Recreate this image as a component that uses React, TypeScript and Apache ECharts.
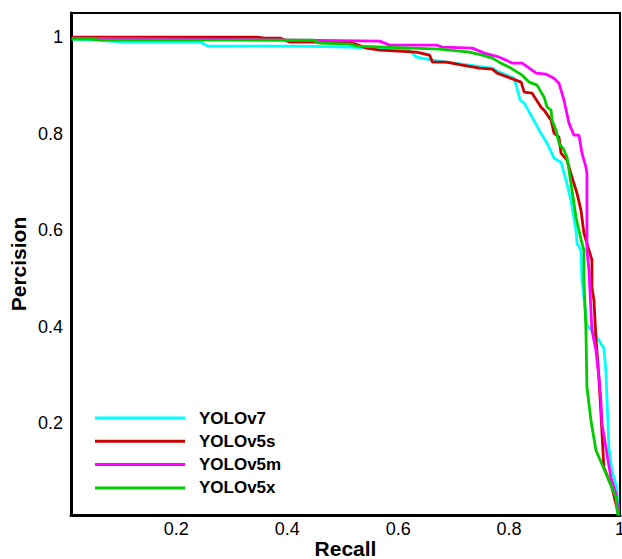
import React, { useEffect, useRef } from "react";
import * as echarts from "echarts";

const seriesNames = ["YOLOv7", "YOLOv5s", "YOLOv5m", "YOLOv5x"];
const seriesColors = ["#00FFFF", "#CC0000", "#FF00FF", "#00CC00"];

const yolov7: number[][] = [
  [0.0113, 0.9959], [0.0544, 0.9938], [0.1084, 0.9896], [0.2431, 0.9896], [0.2575, 0.9813],
  [0.4228, 0.9813], [0.5127, 0.9793], [0.6205, 0.9731], [0.6331, 0.9585], [0.6619, 0.9523],
  [0.687, 0.9482], [0.7283, 0.942], [0.7696, 0.9358], [0.7822, 0.9275], [0.8092, 0.915],
  [0.82, 0.8694], [0.8272, 0.8632], [0.8415, 0.8342], [0.8541, 0.8073], [0.8685, 0.7803],
  [0.881, 0.7492], [0.8936, 0.7409], [0.9026, 0.7036], [0.9116, 0.6622], [0.9206, 0.6],
  [0.9224, 0.5731], [0.9296, 0.5585], [0.9314, 0.4964], [0.9404, 0.4029], [0.9494, 0.3927],
  [0.962, 0.372], [0.9709, 0.3554], [0.9745, 0.3098], [0.9781, 0.2062], [0.9799, 0.1503],
  [0.9853, 0.1026], [0.9943, 0.0674], [0.9979, 0.0093],
];

const yolov5s: number[][] = [
  [0.0113, 1.0], [0.3455, 1.0], [0.3599, 0.9979], [0.3869, 0.9979], [0.4048, 0.9896],
  [0.5127, 0.9896], [0.5432, 0.9772], [0.5666, 0.9731], [0.6331, 0.9689], [0.6565, 0.9627],
  [0.6619, 0.9482], [0.687, 0.9482], [0.7158, 0.942], [0.7463, 0.9358], [0.7696, 0.9337],
  [0.7786, 0.9254], [0.8218, 0.9067], [0.8272, 0.886], [0.8415, 0.8839], [0.8577, 0.8549],
  [0.8631, 0.8487], [0.8757, 0.828], [0.881, 0.801], [0.89, 0.7927], [0.8936, 0.7596],
  [0.9044, 0.7451], [0.9134, 0.7098], [0.9224, 0.6767], [0.9296, 0.6415], [0.935, 0.5938],
  [0.9494, 0.5378], [0.9494, 0.4819], [0.953, 0.4549], [0.9566, 0.3782], [0.962, 0.2953],
  [0.9656, 0.2207], [0.9709, 0.1088], [0.9853, 0.0674], [0.9979, 0.0093],
];

const yolov5m: number[][] = [
  [0.0113, 0.9979], [0.4228, 0.9938], [0.5666, 0.9917], [0.5846, 0.9834], [0.669, 0.9834],
  [0.6798, 0.9793], [0.7337, 0.9772], [0.7553, 0.9668], [0.7822, 0.9585], [0.7948, 0.9523],
  [0.8056, 0.9461], [0.8236, 0.9461], [0.8415, 0.9316], [0.8487, 0.9254], [0.8667, 0.9233],
  [0.881, 0.915], [0.89, 0.9047], [0.899, 0.8694], [0.908, 0.8218], [0.917, 0.7969],
  [0.926, 0.7969], [0.9314, 0.7596], [0.9386, 0.7306], [0.9404, 0.7181], [0.9404, 0.5585],
  [0.944, 0.5171], [0.9494, 0.3927], [0.9566, 0.3513], [0.962, 0.2953], [0.9656, 0.2477],
  [0.9674, 0.2], [0.9745, 0.1503], [0.9835, 0.0881], [0.9925, 0.0549], [0.9979, 0.0093],
];

const yolov5x: number[][] = [
  [0.0113, 0.9959], [0.0455, 0.9959], [0.0634, 0.9938], [0.4462, 0.9938], [0.4592, 0.9876],
  [0.5127, 0.9855], [0.5252, 0.9813], [0.6744, 0.9751], [0.7283, 0.9689], [0.7517, 0.9627],
  [0.7696, 0.9565], [0.7822, 0.9482], [0.8002, 0.9378], [0.8236, 0.9212], [0.8362, 0.9067],
  [0.8505, 0.9005], [0.8577, 0.886], [0.8631, 0.8756], [0.8685, 0.8549], [0.8757, 0.8487],
  [0.8775, 0.828], [0.8846, 0.8073], [0.89, 0.7803], [0.899, 0.7658], [0.9044, 0.7513],
  [0.9116, 0.6974], [0.9206, 0.6269], [0.9314, 0.5731], [0.935, 0.5585], [0.935, 0.4964],
  [0.9386, 0.3927], [0.9404, 0.2746], [0.9476, 0.2062], [0.9566, 0.144], [0.9745, 0.0964],
  [0.9925, 0.0466], [0.9961, 0.0093],
];

const seriesData = [yolov7, yolov5s, yolov5m, yolov5x];

const FONT = "'Liberation Sans', Arial, sans-serif";

const tickFormatter = (v: number) => {
  if (Math.abs(v * 5 - Math.round(v * 5)) > 1e-6) return "";
  if (v < 0.1) return "";
  return String(+v.toFixed(1));
};

export default function App() {
  const ref = useRef<HTMLDivElement>(null);
  useEffect(() => {
    if (!ref.current) return;
    const chart = echarts.init(ref.current, undefined, { renderer: "svg" });
    chart.setOption({
      animation: false,
      backgroundColor: "#fff",
      grid: {
        left: 71,
        top: 13,
        right: 2,
        bottom: 44,
        show: true,
        borderColor: "#000",
        borderWidth: 2,
        containLabel: false,
        outerBoundsMode: "none",
      },
      legend: {
        orient: "vertical",
        left: 90,
        top: 403,
        itemWidth: 90,
        itemHeight: 3,
        itemGap: 3.3,
        icon: "rect",
        data: seriesNames,
        textStyle: {
          fontFamily: FONT,
          fontSize: 17,
          fontWeight: "bold",
          color: "#000",
          lineHeight: 20,
          padding: [0, 0, 0, 9],
        },
      },
      xAxis: {
        type: "value",
        min: 0.01,
        max: 1,
        splitNumber: 5,
        name: "Recall",
        nameLocation: "middle",
        nameGap: 23,
        nameMoveOverlap: false,
        nameTextStyle: { fontFamily: FONT, fontSize: 21, fontWeight: "bold", color: "#000", lineHeight: 21 },
        axisLine: { show: true, lineStyle: { color: "#000", width: 3 } },
        axisTick: { show: false },
        splitLine: { show: false },
        axisLabel: {
          fontFamily: FONT,
          fontSize: 18,
          color: "#000",
          margin: 5,
          formatter: tickFormatter,
        },
      },
      yAxis: {
        type: "value",
        min: 0.01,
        max: 1.05,
        splitNumber: 5,
        name: "Percision",
        nameLocation: "middle",
        nameGap: 42,
        nameMoveOverlap: false,
        nameTextStyle: { fontFamily: FONT, fontSize: 21, fontWeight: "bold", color: "#000" },
        axisLine: { show: true, lineStyle: { color: "#000", width: 3 } },
        axisTick: { show: false },
        splitLine: { show: false },
        axisLabel: {
          fontFamily: FONT,
          fontSize: 18,
          color: "#000",
          margin: 8,
          formatter: tickFormatter,
        },
      },
      series: seriesNames.map((name, i) => ({
        name,
        type: "line",
        data: seriesData[i],
        showSymbol: false,
        symbol: "none",
        color: seriesColors[i],
        lineStyle: { color: seriesColors[i], width: 2.8 },
        itemStyle: { color: seriesColors[i] },
      })),
    });
    return () => chart.dispose();
  }, []);
  return (
    <div
      ref={ref}
      style={{ position: "fixed", left: 0, top: 0, width: 622, height: 559 }}
    />
  );
}
